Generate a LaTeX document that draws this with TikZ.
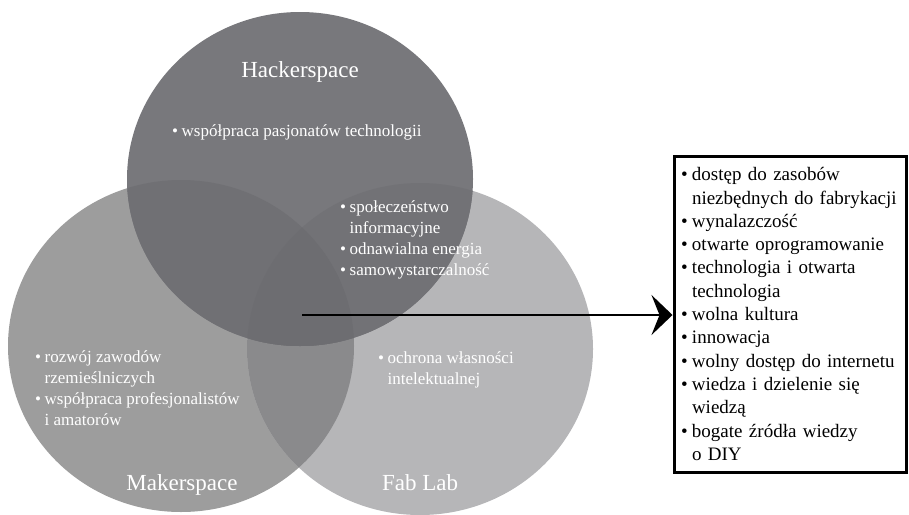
\documentclass[tikz,border=0pt]{standalone}
\usepackage{fontspec}
\setmainfont{Liberation Serif}
\usetikzlibrary{positioning, arrows.meta}

\definecolor{hackergray}{HTML}{78787C}
\definecolor{makergray}{HTML}{9D9D9D}
\definecolor{fabgray}{HTML}{B6B6B8}
\definecolor{mfgray}{HTML}{8A8A8C}
\definecolor{hmgray}{HTML}{707074}
\definecolor{hfgray}{HTML}{727276}
\definecolor{hmfgray}{HTML}{6D6D71}

\newcommand{\itm}{\makebox[9.5pt][l]{\textbullet}}
\newcommand{\cnt}{\hspace*{9.5pt}}
\newcommand{\bitm}{\makebox[11pt][l]{\textbullet}}
\newcommand{\bcnt}{\hspace*{11pt}}

\tikzset{
    circle label/.style={text=white, inner sep=0pt, font=\fontsize{23}{27}\selectfont},
    circle items/.style={text=white, inner sep=0pt, align=left, anchor=base west,
        font=\fontsize{17}{20.7}\selectfont},
    list box/.style={draw=black, line width=3pt, fill=white, align=left,
        text width=218pt, inner xsep=7pt, minimum height=316pt,
        font=\fontsize{19}{23.3}\selectfont}
}

\begin{document}
\begin{tikzpicture}[x=1pt, y=-1pt]
    \useasboundingbox (0,0) rectangle (909,514);
    % the three circles
    \fill[makergray] (181,346) ellipse [x radius=173pt, y radius=166pt];
    \fill[fabgray] (420,349) ellipse [x radius=173pt, y radius=166pt];
    \begin{scope}
        \clip (181,346) ellipse [x radius=173pt, y radius=166pt];
        \fill[mfgray] (420,349) ellipse [x radius=173pt, y radius=166pt];
    \end{scope}
    \fill[hackergray] (300,179) ellipse [x radius=173pt, y radius=167pt];
    \begin{scope}
        \clip (300,179) ellipse [x radius=173pt, y radius=167pt];
        \fill[hmgray] (181,346) ellipse [x radius=173pt, y radius=166pt];
        \fill[hfgray] (420,349) ellipse [x radius=173pt, y radius=166pt];
        \clip (181,346) ellipse [x radius=173pt, y radius=166pt];
        \fill[hmfgray] (420,349) ellipse [x radius=173pt, y radius=166pt];
    \end{scope}

    % labels
    \node[circle label] (hacklabel) at (300,72) {Hackerspace};
    \node[circle label] (makerlabel) at (182,485) {Makerspace};
    \node[circle label] (fablabel) at (420,483) {Fab Lab};

    % items (anchored at the baseline of the last line)
    \node[circle items] (hackitems) at (172,136) {\itm współpraca pasjonatów technologii};
    \node[circle items] (commonitems) at (340,275) {\itm społeczeństwo\\ \cnt informacyjne\\
        \itm odnawialna energia\\ \itm samowystarczalność};
    \node[circle items] (makeritems) at (35,425) {\itm rozwój zawodów\\ \cnt rzemieślniczych\\
        \itm współpraca profesjonalistów\\ \cnt i amatorów};
    \node[circle items] (fabitems) at (378,384) {\itm ochrona własności\\ \cnt intelektualnej};

    % list of features
    \node[list box, anchor=north west] (facts) at (672.5,154.5) {%
        \bitm dostęp do zasobów\\ \bcnt niezbędnych do fabrykacji\\
        \bitm wynalazczość\\ \bitm otwarte oprogramowanie\\
        \bitm technologia i otwarta\\ \bcnt technologia\\
        \bitm wolna kultura\\ \bitm innowacja\\
        \bitm wolny dostęp do internetu\\ \bitm wiedza i dzielenie się\\
        \bcnt wiedzą\\ \bitm bogate źródła wiedzy\\ \bcnt o DIY};

    \coordinate (arrowstart) at (302,315);
    \draw[line width=2.2pt, -{Stealth[length=21pt, width=40pt, inset=8pt]}]
        (arrowstart) -- (arrowstart -| facts.west);
\end{tikzpicture}
\end{document}
